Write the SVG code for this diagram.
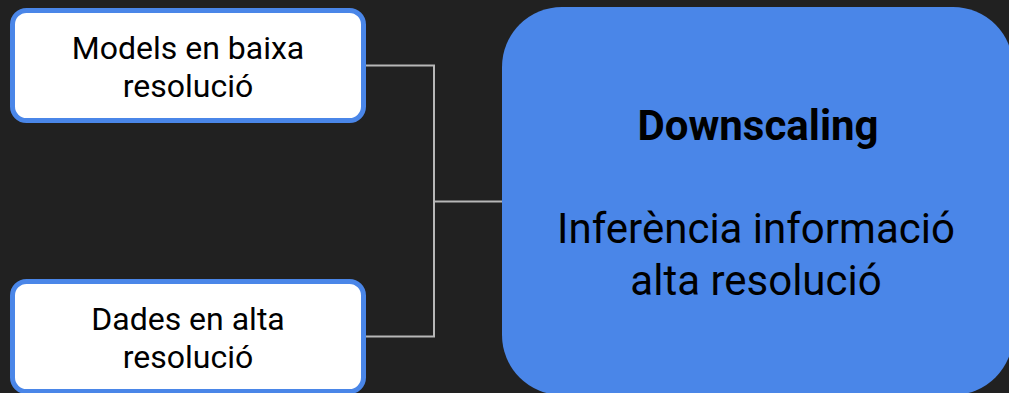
<svg xmlns="http://www.w3.org/2000/svg" width="1009" height="393" viewBox="0 0 1009 393">
  <style>
    .small { fill: #ffffff; stroke: #4a86e8; stroke-width: 5; }
    .big { fill: #4a86e8; }
    .conn { fill: none; stroke: #b7b7b7; stroke-width: 2; }
    text { font-family: Roboto, "Liberation Sans", sans-serif; fill: #000000; text-anchor: middle; }
    .t32 { font-size: 32px; }
    .t42 { font-size: 42px; }
    .bold { font-weight: bold; }
  </style>
  <rect x="0" y="0" width="1009" height="393" fill="#212121"/>
  <g id="connectors">
    <polyline class="conn" points="366,65.5 434,65.5 434,336.5 366,336.5"/>
    <line class="conn" x1="434" y1="201.5" x2="502" y2="201.5"/>
  </g>
  <g id="node-models">
    <rect class="small" x="12.5" y="10.5" width="351" height="110" rx="14"/>
    <text class="t32" x="188" y="59">Models en baixa</text>
    <text class="t32" x="188" y="96.5">resolució</text>
  </g>
  <g id="node-dades">
    <rect class="small" x="12.5" y="281.5" width="351" height="110" rx="14"/>
    <text class="t32" x="188" y="330">Dades en alta</text>
    <text class="t32" x="188" y="367.5">resolució</text>
  </g>
  <g id="node-downscaling">
    <rect class="big" x="502" y="7" width="511" height="388" rx="60"/>
    <text class="t42 bold" x="758" y="139.5">Downscaling</text>
    <text class="t42" x="756" y="243">Inferència informació</text>
    <text class="t42" x="756" y="295">alta resolució</text>
  </g>
</svg>
